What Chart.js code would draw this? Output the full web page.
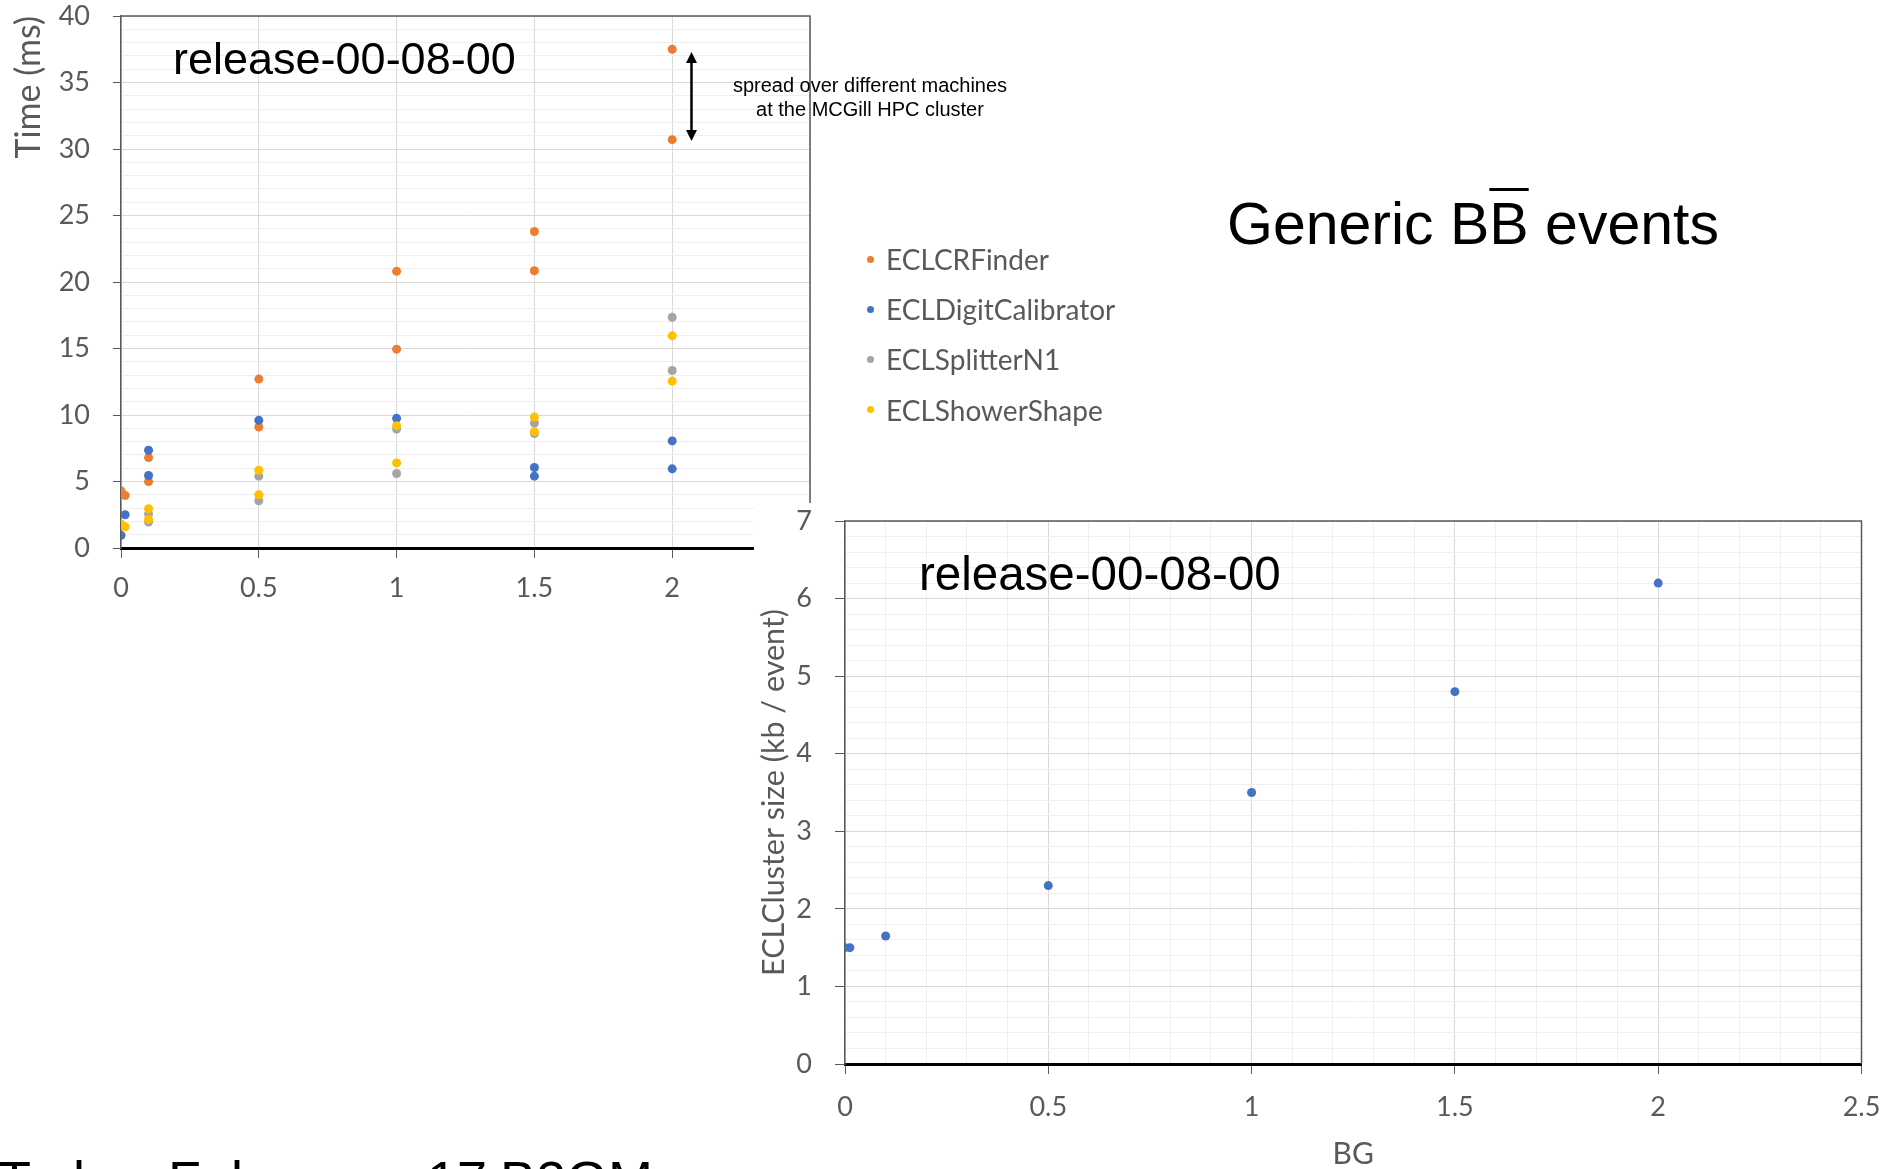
<!DOCTYPE html>
<html>
<head>
<meta charset="utf-8">
<title>ECL timing and cluster size vs BG</title>
<script src="https://cdn.jsdelivr.net/npm/chart.js@4.4.1/dist/chart.umd.min.js"></script>
<style>
  html, body { margin: 0; padding: 0; background: #fff; }
  body { width: 1901px; height: 1169px; position: relative; overflow: hidden;
         font-family: "Liberation Sans", Arial, sans-serif; color: #000; }
  .abs { position: absolute; white-space: nowrap; line-height: 1; }
  #timeBox { position: absolute; left: 0; top: 0; width: 900px; height: 640px; }
  #sizeBox { position: absolute; left: 754px; top: 503px; width: 1147px; height: 666px; background: #fff; }
  #legend { position: absolute; left: 864px; top: 234px; font-family: Lato, sans-serif; font-size: 28px; color: #595959; }
  #legend .row { height: 50.2px; display: flex; align-items: center; }
  #legend .dot { width: 7px; height: 7px; border-radius: 50%; margin-right: 12px; margin-left: 3px; }
  #note { left: 870px; top: 74px; transform: translateX(-50%); text-align: center; font-size: 20px; line-height: 23.5px; }
</style>
</head>
<body>
<div id="timeBox"><canvas id="timeChart"></canvas></div>

<div class="abs" style="left:173px; top:36px; font-size:45px;">release-00-08-00</div>
<div class="abs" id="note">spread over different machines<br>at the MCGill HPC cluster</div>
<div id="legend"></div>
<div class="abs" style="left:1227px; top:195px; font-size:59px;">Generic B<span style="text-decoration:overline; text-decoration-thickness:3px;">B</span> events</div>

<div id="sizeBox"><canvas id="sizeChart"></canvas></div>
<div class="abs" style="left:919px; top:550px; font-size:47.5px;">release-00-08-00</div>

<div class="abs" style="left:-2px; top:1153px; font-size:54px;">Today</div>
<div class="abs" style="left:168px; top:1153px; font-size:54px;">February</div>
<div class="abs" style="left:427px; top:1153px; font-size:54px;">17</div>
<div class="abs" style="left:500px; top:1153px; font-size:54px;">B2GM</div>

<script>
// module timing, two runs per BG level (ms); null = run not shown
const runBG = [0, 0.015, 0.1, 0.1, 0.5, 0.5, 1, 1, 1.5, 1.5, 2, 2];
const crFinderMs = [4.3, 3.95, 6.8, 5.0, 12.7, 9.1, 20.8, 14.95, 23.8, 20.85, 37.5, 30.7];
const digitCalibratorMs = [0.95, 2.5, 7.35, 5.45, 9.6, null, 9.75, null, 6.05, 5.4, 8.05, 5.95];
const splitterN1Ms = [null, null, 2.55, 1.95, 5.4, 3.55, 8.95, 5.6, 9.4, 8.6, 17.35, 13.35];
const showerShapeMs = [1.8, 1.6, 2.95, 2.15, 5.85, 4.0, 9.2, 6.4, 9.85, 8.75, 15.95, 12.55];
const moduleNames = ['ECLCRFinder', 'ECLDigitCalibrator', 'ECLSplitterN1', 'ECLShowerShape'];

// ECLCluster size per event
const sizeBG = [0, 0.012, 0.1, 0.5, 1, 1.5, 2];
const clusterKb = [1.5, 1.5, 1.65, 2.3, 3.5, 4.8, 6.2];

// axes: [min, max, labelled step, grid step]
const timeAxisX = [0, 2.5, 0.5, 0.5];
const timeAxisY = [0, 40, 5, 1];
const sizeAxisX = [0, 2.5, 0.5, 0.1];
const sizeAxisY = [0, 7, 1, 0.2];

// machine-to-machine spread at BG = 2 (arrow)
const spreadBG = 2.07;
const spreadRange = [30.6, 37.3];

const moduleColors = ['#ED7D31', '#4472C4', '#A5A5A5', '#FFC000'];
const labelGrey = '#595959';

function isMajor(v, step) {
  return Math.abs(v / step - Math.round(v / step)) < 1e-6;
}

function points(xs, ys) {
  return xs.map((x, i) => ({ x, y: ys[i] })).filter(p => p.y !== null);
}

function linearAxis(range, o) {
  const [min, max, labelStep, gridStep] = range;
  return {
    type: 'linear', min, max,
    ticks: {
      stepSize: gridStep, autoSkip: false, maxTicksLimit: 1000, maxRotation: 0,
      color: labelGrey, font: { family: 'Lato', size: 27 }, padding: o.pad,
      callback: v => isMajor(v, labelStep) ? String(+v.toFixed(2)) : ''
    },
    grid: {
      color: c => (c.tick && isMajor(c.tick.value, labelStep)) ? '#d9d9d9' : '#efefef',
      tickColor: c => (c.tick && isMajor(c.tick.value, labelStep)) ? labelGrey : 'rgba(0,0,0,0)',
      tickLength: o.tick, lineWidth: 1
    },
    border: o.border,
    title: o.title || { display: false },
    afterFit: s => {
      if (s.isHorizontal()) s.height = o.size; else s.width = o.size;
      s.paddingLeft = s.paddingRight = s.paddingTop = s.paddingBottom = 0;
    }
  };
}

// top and right edges of the plot area
const plotFrame = {
  id: 'plotFrame',
  beforeDatasetsDraw(chart) {
    const { ctx, chartArea: a } = chart;
    ctx.save();
    ctx.strokeStyle = labelGrey;
    ctx.lineWidth = 1.5;
    ctx.beginPath();
    ctx.moveTo(a.left, a.top);
    ctx.lineTo(a.right, a.top);
    ctx.lineTo(a.right, a.bottom);
    ctx.stroke();
    ctx.restore();
  }
};

// double-headed arrow marking the spread
const spreadArrow = {
  id: 'spreadArrow',
  afterDatasetsDraw(chart) {
    const { ctx, scales: { x, y } } = chart;
    const px = x.getPixelForValue(spreadBG);
    const y0 = y.getPixelForValue(spreadRange[1]);
    const y1 = y.getPixelForValue(spreadRange[0]);
    const hw = 5.5, hh = 11;
    ctx.save();
    ctx.strokeStyle = '#000';
    ctx.fillStyle = '#000';
    ctx.lineWidth = 2.5;
    ctx.beginPath();
    ctx.moveTo(px, y0 + hh - 1);
    ctx.lineTo(px, y1 - hh + 1);
    ctx.stroke();
    ctx.beginPath();
    ctx.moveTo(px, y0); ctx.lineTo(px - hw, y0 + hh); ctx.lineTo(px + hw, y0 + hh);
    ctx.closePath(); ctx.fill();
    ctx.beginPath();
    ctx.moveTo(px, y1); ctx.lineTo(px - hw, y1 - hh); ctx.lineTo(px + hw, y1 - hh);
    ctx.closePath(); ctx.fill();
    ctx.restore();
  }
};

const timeSeries = [crFinderMs, digitCalibratorMs, splitterN1Ms, showerShapeMs];

new Chart(document.getElementById('timeChart'), {
  type: 'scatter',
  data: {
    datasets: timeSeries.map((ms, i) => ({
      label: moduleNames[i],
      data: points(runBG, ms),
      backgroundColor: moduleColors[i],
      borderWidth: 0,
      pointRadius: 4.5,
      order: timeSeries.length - i
    }))
  },
  options: {
    responsive: true,
    maintainAspectRatio: false,
    animation: false,
    layout: { padding: { top: 16, right: 90, left: 0, bottom: 0 } },
    plugins: { legend: { display: false }, tooltip: { enabled: false } },
    scales: {
      x: linearAxis(timeAxisX, { pad: 14, tick: 10, size: 92,
        border: { color: '#000', width: 3 } }),
      y: linearAxis(timeAxisY, { pad: 23, tick: 8, size: 121,
        border: { color: labelGrey, width: 1.5 },
        title: { display: true, text: 'Time (ms)', align: 'end', color: labelGrey,
                 font: { family: 'Lato', size: 34 }, padding: { top: 9, bottom: 0 } } })
    }
  },
  plugins: [plotFrame, spreadArrow]
});

new Chart(document.getElementById('sizeChart'), {
  type: 'scatter',
  data: {
    datasets: [{
      label: 'ECLCluster size',
      data: points(sizeBG, clusterKb),
      backgroundColor: '#4472C4',
      borderWidth: 0,
      pointRadius: 4.5
    }]
  },
  options: {
    responsive: true,
    maintainAspectRatio: false,
    animation: false,
    layout: { padding: { top: 18, right: 39.5, left: 0, bottom: 0 } },
    plugins: { legend: { display: false }, tooltip: { enabled: false } },
    scales: {
      x: linearAxis(sizeAxisX, { pad: 17, tick: 10, size: 105,
        border: { color: '#000', width: 3 },
        title: { display: true, text: 'BG', color: labelGrey,
                 font: { family: 'Lato', size: 30, lineHeight: 1 }, padding: 0 } }),
      y: linearAxis(sizeAxisY, { pad: 23, tick: 10, size: 91,
        border: { color: labelGrey, width: 1.5 },
        title: { display: true, text: 'ECLCluster size (kb / event)', color: labelGrey,
                 font: { family: 'Lato', size: 30.5 }, padding: { top: 2, bottom: 0 } } })
    }
  },
  plugins: [plotFrame]
});

// legend for the timing chart
const legend = document.getElementById('legend');
moduleNames.forEach((name, i) => {
  const row = document.createElement('div');
  row.className = 'row';
  const dot = document.createElement('span');
  dot.className = 'dot';
  dot.style.background = moduleColors[i];
  const txt = document.createElement('span');
  txt.textContent = name;
  row.appendChild(dot);
  row.appendChild(txt);
  legend.appendChild(row);
});
</script>
</body>
</html>
